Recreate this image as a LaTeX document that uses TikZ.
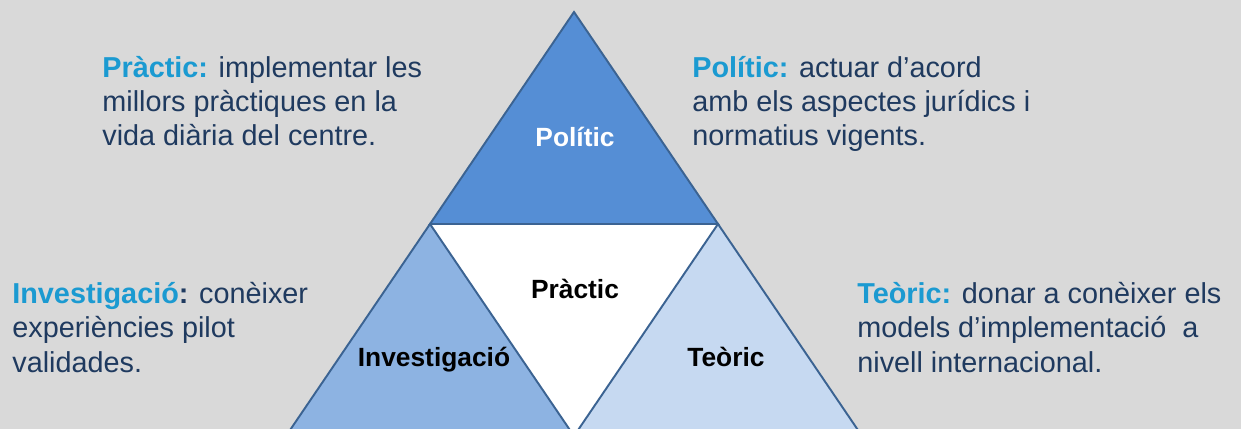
\documentclass[tikz,border=0pt]{standalone}
\usepackage{fontspec}
\setmainfont{Liberation Sans}
\usetikzlibrary{positioning}
\definecolor{bgGray}{HTML}{D9D9D9}
\definecolor{triTop}{HTML}{558ED5}
\definecolor{triLeft}{HTML}{8DB3E2}
\definecolor{triRight}{HTML}{C6D9F1}
\definecolor{triBorder}{HTML}{3B6392}
\definecolor{descBlue}{HTML}{1F3A5F}
\definecolor{headBlue}{HTML}{1B9AD1}
\tikzset{
  tri edge/.style={
    draw=triBorder, line width=1.1pt, line join=miter
  },
  tri label/.style={
    font=\fontsize{15}{17}\selectfont\bfseries, inner sep=0pt
  },
  desc text/.style={
    font=\fontsize{16.4}{19.6}\selectfont, text=descBlue,
    align=left, anchor=base west, inner sep=0pt
  }
}
\newcommand{\hd}[1]{\textcolor{headBlue}{\textbf{#1}}}

\begin{document}
\begin{tikzpicture}[x=0.02cm, y=-0.02cm]
  \useasboundingbox (0,0) rectangle (1241,429);
  \fill[bgGray] (0,0) rectangle (1241,429);
  \clip (0,0) rectangle (1241,429);

  % corners of the big triangle
  \coordinate (apex) at (574,12);
  \coordinate (ml) at (430,224);
  \coordinate (mr) at (718,224);
  \coordinate (mb) at (574,436);
  \coordinate (bl) at (286,436);
  \coordinate (br) at (862,436);

  \fill[white] (ml) -- (mr) -- (mb) -- cycle;
  \filldraw[tri edge, fill=triLeft] (ml) -- (mb) -- (bl) -- cycle;
  \filldraw[tri edge, fill=triRight] (mr) -- (br) -- (mb) -- cycle;
  \filldraw[tri edge, fill=triTop] (apex) -- (mr) -- (ml) -- cycle;

  \node (politic) [tri label, text=white, anchor=base] at (575,147) {Polític};
  \node (practic) [tri label, anchor=base] at (575,298) {Pràctic};
  \node (invest) [tri label, anchor=base] at (434,366) {Investigació};
  \node (teoric) [tri label, anchor=base] at (726,366) {Teòric};

  % descriptions, placed at the baseline of their last line
  \node (dPractic) [desc text] at (102,146)
    {\hd{Pràctic:} implementar les\\millors pràctiques en la\\vida diària del centre.};
  \node (dPolitic) [desc text] at (692,146)
    {\hd{Polític:} actuar d’acord\\amb els aspectes jurídics i\\normatius vigents.};
  \node (dInvest) [desc text] at (12,372)
    {\hd{Investigació}\textbf{:} conèixer\\experiències pilot\\validades.};
  \node (dTeoric) [desc text] at (857,372)
    {\hd{Teòric:} donar a conèixer els\\models d’implementació~ a\\nivell internacional.};
\end{tikzpicture}
\end{document}
